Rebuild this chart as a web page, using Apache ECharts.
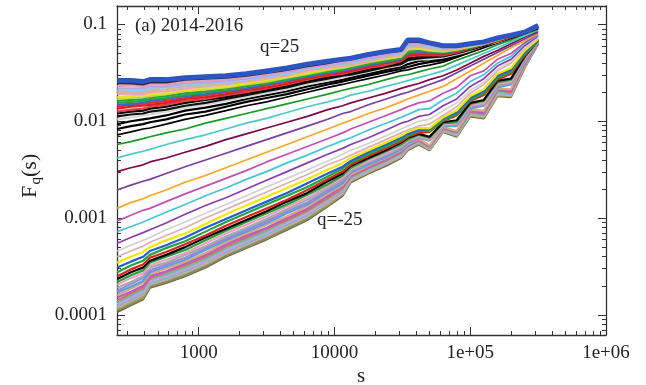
<!DOCTYPE html>
<html>
<head>
<meta charset="utf-8">
<script src="https://cdn.jsdelivr.net/npm/echarts@6/dist/echarts.min.js"></script>
<style>
html,body{margin:0;padding:0;background:#fff;}
#chart{width:646px;height:385px;}
</style>
</head>
<body>
<div id="chart"></div>
<script>
// ---- scale s (x values shared by every curve) ----
const sGrid = [251, 316, 389, 437, 575, 794, 1122, 1585, 2239, 3162, 4467, 6310, 8913, 11482, 13183,
  17783, 23988, 30903, 34674, 41687, 50119, 63096, 79433, 100000, 125893, 158489, 199526, 251189, 316228];

// ---- log10 of F_q(s) ----
const qUpper = [25,24,23,22,21,20,19,18,17,16,15,14,13,12,11,10,9,8,7,6];
const log10FqUpper = [
 [-1.58,-1.58,-1.59,-1.57,-1.57,-1.55,-1.54,-1.53,-1.51,-1.48,-1.45,-1.41,-1.38,-1.36,-1.35,-1.31,-1.28,-1.26,-1.16,-1.16,-1.19,-1.22,-1.22,-1.20,-1.18,-1.14,-1.11,-1.08,-1.01],
 [-1.61,-1.61,-1.62,-1.60,-1.60,-1.57,-1.56,-1.55,-1.53,-1.50,-1.47,-1.43,-1.40,-1.37,-1.36,-1.32,-1.29,-1.27,-1.18,-1.18,-1.20,-1.23,-1.23,-1.21,-1.18,-1.14,-1.11,-1.08,-1.01],
 [-1.64,-1.63,-1.64,-1.62,-1.62,-1.59,-1.58,-1.57,-1.54,-1.51,-1.48,-1.44,-1.41,-1.39,-1.37,-1.33,-1.30,-1.28,-1.19,-1.19,-1.21,-1.24,-1.23,-1.21,-1.19,-1.15,-1.11,-1.08,-1.01],
 [-1.66,-1.66,-1.66,-1.64,-1.64,-1.61,-1.60,-1.58,-1.56,-1.53,-1.49,-1.45,-1.42,-1.40,-1.39,-1.35,-1.32,-1.29,-1.21,-1.20,-1.22,-1.24,-1.24,-1.21,-1.19,-1.15,-1.11,-1.08,-1.01],
 [-1.68,-1.68,-1.68,-1.66,-1.65,-1.63,-1.61,-1.60,-1.57,-1.54,-1.51,-1.46,-1.43,-1.41,-1.40,-1.36,-1.32,-1.30,-1.22,-1.21,-1.23,-1.25,-1.24,-1.22,-1.19,-1.15,-1.12,-1.08,-1.02],
 [-1.70,-1.70,-1.70,-1.68,-1.67,-1.64,-1.63,-1.61,-1.58,-1.55,-1.52,-1.47,-1.44,-1.42,-1.41,-1.37,-1.33,-1.31,-1.23,-1.22,-1.24,-1.26,-1.25,-1.22,-1.19,-1.15,-1.12,-1.08,-1.02],
 [-1.72,-1.72,-1.72,-1.70,-1.69,-1.66,-1.64,-1.62,-1.59,-1.56,-1.53,-1.48,-1.45,-1.43,-1.42,-1.38,-1.34,-1.32,-1.24,-1.23,-1.25,-1.26,-1.25,-1.22,-1.20,-1.15,-1.12,-1.08,-1.02],
 [-1.75,-1.74,-1.73,-1.72,-1.71,-1.68,-1.66,-1.64,-1.61,-1.57,-1.54,-1.50,-1.46,-1.44,-1.42,-1.38,-1.35,-1.33,-1.25,-1.24,-1.26,-1.27,-1.25,-1.23,-1.20,-1.16,-1.12,-1.08,-1.02],
 [-1.77,-1.76,-1.75,-1.74,-1.72,-1.69,-1.67,-1.65,-1.62,-1.59,-1.55,-1.51,-1.47,-1.45,-1.43,-1.39,-1.36,-1.33,-1.26,-1.25,-1.27,-1.28,-1.26,-1.23,-1.20,-1.16,-1.12,-1.08,-1.02],
 [-1.79,-1.78,-1.77,-1.75,-1.74,-1.71,-1.69,-1.66,-1.63,-1.60,-1.56,-1.52,-1.48,-1.46,-1.44,-1.40,-1.37,-1.34,-1.27,-1.26,-1.27,-1.28,-1.26,-1.23,-1.20,-1.16,-1.12,-1.08,-1.02],
 [-1.81,-1.80,-1.79,-1.77,-1.76,-1.73,-1.70,-1.68,-1.64,-1.61,-1.57,-1.53,-1.49,-1.47,-1.45,-1.41,-1.38,-1.35,-1.29,-1.27,-1.28,-1.29,-1.27,-1.24,-1.20,-1.16,-1.12,-1.08,-1.02],
 [-1.83,-1.82,-1.81,-1.79,-1.77,-1.74,-1.72,-1.69,-1.66,-1.62,-1.58,-1.54,-1.50,-1.48,-1.46,-1.42,-1.39,-1.36,-1.30,-1.28,-1.29,-1.30,-1.27,-1.24,-1.21,-1.16,-1.12,-1.08,-1.02],
 [-1.85,-1.83,-1.83,-1.81,-1.79,-1.76,-1.73,-1.70,-1.67,-1.63,-1.59,-1.55,-1.51,-1.48,-1.47,-1.43,-1.39,-1.37,-1.31,-1.29,-1.30,-1.30,-1.28,-1.24,-1.21,-1.16,-1.12,-1.08,-1.02],
 [-1.87,-1.85,-1.84,-1.83,-1.81,-1.77,-1.75,-1.72,-1.68,-1.65,-1.61,-1.56,-1.52,-1.50,-1.48,-1.44,-1.40,-1.37,-1.32,-1.31,-1.31,-1.31,-1.28,-1.25,-1.21,-1.17,-1.13,-1.08,-1.03],
 [-1.90,-1.88,-1.87,-1.85,-1.83,-1.79,-1.77,-1.73,-1.70,-1.66,-1.62,-1.57,-1.53,-1.51,-1.49,-1.45,-1.42,-1.38,-1.33,-1.32,-1.32,-1.32,-1.29,-1.25,-1.21,-1.17,-1.13,-1.09,-1.03],
 [-1.92,-1.90,-1.89,-1.87,-1.85,-1.81,-1.78,-1.75,-1.71,-1.68,-1.63,-1.59,-1.54,-1.52,-1.50,-1.46,-1.43,-1.39,-1.35,-1.33,-1.33,-1.32,-1.29,-1.25,-1.22,-1.17,-1.13,-1.09,-1.03],
 [-1.95,-1.93,-1.92,-1.90,-1.88,-1.84,-1.81,-1.77,-1.73,-1.69,-1.65,-1.60,-1.56,-1.53,-1.52,-1.48,-1.44,-1.41,-1.37,-1.35,-1.34,-1.33,-1.30,-1.26,-1.22,-1.17,-1.13,-1.09,-1.03],
 [-1.98,-1.96,-1.94,-1.93,-1.90,-1.86,-1.83,-1.79,-1.75,-1.71,-1.67,-1.62,-1.58,-1.55,-1.53,-1.49,-1.45,-1.42,-1.38,-1.36,-1.36,-1.34,-1.31,-1.27,-1.22,-1.18,-1.13,-1.09,-1.03],
 [-2.03,-2.00,-1.98,-1.97,-1.94,-1.89,-1.86,-1.82,-1.77,-1.73,-1.69,-1.64,-1.60,-1.57,-1.55,-1.51,-1.47,-1.44,-1.41,-1.38,-1.37,-1.36,-1.32,-1.27,-1.23,-1.18,-1.13,-1.09,-1.03],
 [-2.08,-2.05,-2.03,-2.01,-1.98,-1.93,-1.90,-1.85,-1.80,-1.76,-1.72,-1.67,-1.62,-1.59,-1.57,-1.53,-1.49,-1.46,-1.44,-1.41,-1.39,-1.37,-1.33,-1.28,-1.23,-1.18,-1.14,-1.09,-1.04]
];
const qMiddle = [5,4,3,2,1,0,-1,-2,-3,-4,-5];
const log10FqMiddle = [
 [-2.14,-2.11,-2.08,-2.07,-2.03,-1.98,-1.94,-1.89,-1.84,-1.80,-1.75,-1.70,-1.65,-1.62,-1.60,-1.56,-1.52,-1.48,-1.47,-1.44,-1.42,-1.39,-1.34,-1.29,-1.24,-1.19,-1.14,-1.09,-1.04],
 [-2.24,-2.21,-2.18,-2.16,-2.12,-2.08,-2.02,-1.97,-1.92,-1.87,-1.82,-1.77,-1.72,-1.68,-1.66,-1.62,-1.57,-1.53,-1.52,-1.49,-1.46,-1.43,-1.37,-1.32,-1.27,-1.21,-1.16,-1.10,-1.05],
 [-2.38,-2.34,-2.31,-2.29,-2.24,-2.19,-2.14,-2.08,-2.02,-1.97,-1.91,-1.85,-1.80,-1.76,-1.73,-1.69,-1.64,-1.60,-1.58,-1.55,-1.52,-1.48,-1.42,-1.36,-1.30,-1.24,-1.18,-1.12,-1.06],
 [-2.52,-2.48,-2.45,-2.42,-2.38,-2.32,-2.26,-2.19,-2.13,-2.07,-2.01,-1.95,-1.88,-1.84,-1.81,-1.76,-1.71,-1.66,-1.64,-1.61,-1.57,-1.53,-1.47,-1.40,-1.33,-1.27,-1.20,-1.13,-1.07],
 [-2.71,-2.66,-2.62,-2.60,-2.54,-2.47,-2.40,-2.33,-2.26,-2.19,-2.12,-2.05,-1.98,-1.92,-1.90,-1.83,-1.77,-1.72,-1.70,-1.66,-1.62,-1.57,-1.50,-1.43,-1.36,-1.29,-1.22,-1.15,-1.08],
 [-2.90,-2.84,-2.80,-2.77,-2.71,-2.63,-2.56,-2.48,-2.40,-2.32,-2.24,-2.16,-2.08,-2.02,-1.99,-1.92,-1.86,-1.80,-1.77,-1.73,-1.69,-1.64,-1.56,-1.48,-1.40,-1.32,-1.24,-1.17,-1.09],
 [-3.03,-2.97,-2.92,-2.90,-2.83,-2.75,-2.67,-2.59,-2.51,-2.42,-2.34,-2.26,-2.18,-2.12,-2.08,-2.01,-1.94,-1.88,-1.85,-1.81,-1.79,-1.71,-1.65,-1.53,-1.48,-1.36,-1.30,-1.19,-1.10],
 [-3.14,-3.09,-3.04,-3.01,-2.94,-2.86,-2.77,-2.69,-2.60,-2.52,-2.43,-2.35,-2.26,-2.20,-2.17,-2.09,-2.02,-1.96,-1.93,-1.88,-1.87,-1.78,-1.71,-1.59,-1.52,-1.40,-1.33,-1.20,-1.11],
 [-3.26,-3.20,-3.15,-3.12,-3.05,-2.96,-2.87,-2.79,-2.70,-2.61,-2.52,-2.43,-2.34,-2.28,-2.24,-2.17,-2.09,-2.02,-2.00,-1.95,-1.93,-1.84,-1.77,-1.64,-1.56,-1.43,-1.36,-1.22,-1.12],
 [-3.34,-3.28,-3.23,-3.20,-3.12,-3.04,-2.95,-2.86,-2.77,-2.68,-2.59,-2.50,-2.41,-2.34,-2.30,-2.23,-2.15,-2.08,-2.05,-2.00,-1.98,-1.89,-1.81,-1.68,-1.60,-1.46,-1.38,-1.24,-1.13],
 [-3.40,-3.34,-3.29,-3.25,-3.18,-3.10,-3.00,-2.91,-2.82,-2.73,-2.64,-2.55,-2.45,-2.39,-2.35,-2.27,-2.19,-2.12,-2.09,-2.05,-2.03,-1.94,-1.85,-1.71,-1.62,-1.48,-1.40,-1.25,-1.14]
];
const qLower = [-6,-7,-8,-9,-10,-11,-12,-13,-14,-15,-16,-17,-18,-19,-20,-21,-22,-23,-24,-25];
const log10FqLower = [
 [-3.46,-3.40,-3.35,-3.30,-3.23,-3.16,-3.06,-2.96,-2.87,-2.78,-2.69,-2.60,-2.50,-2.43,-2.38,-2.30,-2.22,-2.15,-2.11,-2.07,-2.07,-1.96,-1.89,-1.74,-1.67,-1.51,-1.45,-1.27,-1.15],
 [-3.51,-3.45,-3.40,-3.34,-3.28,-3.20,-3.10,-3.01,-2.92,-2.83,-2.74,-2.64,-2.54,-2.47,-2.41,-2.32,-2.24,-2.17,-2.13,-2.09,-2.08,-1.97,-1.91,-1.76,-1.69,-1.53,-1.47,-1.29,-1.15],
 [-3.56,-3.49,-3.44,-3.38,-3.31,-3.24,-3.14,-3.04,-2.95,-2.86,-2.77,-2.68,-2.57,-2.49,-2.43,-2.34,-2.26,-2.19,-2.15,-2.10,-2.10,-1.99,-1.93,-1.78,-1.71,-1.55,-1.49,-1.31,-1.16],
 [-3.60,-3.53,-3.48,-3.41,-3.35,-3.27,-3.18,-3.08,-2.99,-2.90,-2.81,-2.71,-2.60,-2.52,-2.45,-2.36,-2.28,-2.21,-2.16,-2.12,-2.11,-2.00,-1.94,-1.79,-1.73,-1.57,-1.51,-1.32,-1.16],
 [-3.63,-3.56,-3.51,-3.44,-3.38,-3.30,-3.20,-3.11,-3.02,-2.93,-2.83,-2.74,-2.62,-2.54,-2.46,-2.38,-2.30,-2.22,-2.17,-2.13,-2.16,-2.01,-1.99,-1.81,-1.78,-1.58,-1.56,-1.33,-1.16],
 [-3.66,-3.59,-3.54,-3.46,-3.40,-3.33,-3.23,-3.13,-3.04,-2.95,-2.86,-2.76,-2.65,-2.56,-2.48,-2.39,-2.31,-2.24,-2.19,-2.14,-2.17,-2.02,-2.01,-1.82,-1.79,-1.60,-1.57,-1.34,-1.17],
 [-3.69,-3.62,-3.57,-3.49,-3.43,-3.36,-3.26,-3.16,-3.07,-2.98,-2.88,-2.79,-2.67,-2.58,-2.49,-2.41,-2.33,-2.25,-2.20,-2.15,-2.18,-2.03,-2.02,-1.83,-1.81,-1.61,-1.59,-1.35,-1.17],
 [-3.72,-3.66,-3.60,-3.51,-3.46,-3.38,-3.29,-3.19,-3.10,-3.01,-2.91,-2.81,-2.69,-2.60,-2.51,-2.42,-2.34,-2.27,-2.21,-2.16,-2.19,-2.04,-2.03,-1.84,-1.82,-1.63,-1.60,-1.36,-1.17],
 [-3.75,-3.68,-3.62,-3.54,-3.48,-3.41,-3.31,-3.21,-3.12,-3.03,-2.93,-2.84,-2.71,-2.62,-2.52,-2.43,-2.35,-2.28,-2.22,-2.17,-2.19,-2.04,-2.04,-1.86,-1.83,-1.64,-1.61,-1.37,-1.18],
 [-3.77,-3.71,-3.65,-3.56,-3.50,-3.43,-3.33,-3.23,-3.14,-3.05,-2.95,-2.86,-2.73,-2.64,-2.53,-2.45,-2.37,-2.29,-2.23,-2.17,-2.20,-2.05,-2.05,-1.87,-1.84,-1.65,-1.62,-1.38,-1.18],
 [-3.80,-3.73,-3.67,-3.58,-3.52,-3.45,-3.36,-3.25,-3.16,-3.07,-2.98,-2.88,-2.75,-2.66,-2.55,-2.46,-2.38,-2.30,-2.24,-2.18,-2.25,-2.06,-2.10,-1.88,-1.89,-1.66,-1.67,-1.39,-1.18],
 [-3.82,-3.76,-3.70,-3.60,-3.55,-3.47,-3.38,-3.27,-3.18,-3.10,-3.00,-2.90,-2.77,-2.67,-2.56,-2.47,-2.39,-2.31,-2.25,-2.19,-2.26,-2.07,-2.11,-1.89,-1.91,-1.67,-1.69,-1.40,-1.19],
 [-3.85,-3.78,-3.72,-3.62,-3.56,-3.49,-3.40,-3.29,-3.20,-3.11,-3.02,-2.92,-2.79,-2.69,-2.57,-2.48,-2.40,-2.32,-2.25,-2.20,-2.26,-2.07,-2.11,-1.90,-1.92,-1.68,-1.70,-1.41,-1.19],
 [-3.87,-3.80,-3.74,-3.63,-3.58,-3.51,-3.42,-3.31,-3.22,-3.13,-3.03,-2.93,-2.80,-2.70,-2.58,-2.49,-2.41,-2.33,-2.26,-2.20,-2.27,-2.08,-2.12,-1.91,-1.93,-1.69,-1.71,-1.41,-1.19],
 [-3.89,-3.82,-3.76,-3.65,-3.60,-3.53,-3.44,-3.33,-3.24,-3.15,-3.05,-2.95,-2.82,-2.71,-2.59,-2.50,-2.42,-2.34,-2.27,-2.21,-2.27,-2.08,-2.13,-1.91,-1.93,-1.70,-1.71,-1.42,-1.19],
 [-3.91,-3.84,-3.78,-3.67,-3.62,-3.55,-3.45,-3.35,-3.26,-3.17,-3.07,-2.97,-2.83,-2.73,-2.60,-2.51,-2.43,-2.35,-2.28,-2.22,-2.28,-2.09,-2.14,-1.92,-1.94,-1.71,-1.72,-1.43,-1.19],
 [-3.92,-3.85,-3.79,-3.68,-3.63,-3.56,-3.47,-3.36,-3.27,-3.18,-3.08,-2.98,-2.84,-2.74,-2.61,-2.52,-2.44,-2.36,-2.28,-2.22,-2.29,-2.10,-2.14,-1.93,-1.95,-1.72,-1.73,-1.43,-1.19],
 [-3.94,-3.87,-3.81,-3.69,-3.64,-3.57,-3.48,-3.37,-3.28,-3.19,-3.09,-2.99,-2.86,-2.75,-2.61,-2.53,-2.44,-2.37,-2.29,-2.23,-2.29,-2.10,-2.15,-1.94,-1.96,-1.73,-1.74,-1.44,-1.20],
 [-3.95,-3.89,-3.83,-3.71,-3.66,-3.59,-3.50,-3.39,-3.30,-3.21,-3.11,-3.01,-2.87,-2.76,-2.62,-2.53,-2.45,-2.37,-2.29,-2.23,-2.29,-2.10,-2.15,-1.94,-1.96,-1.73,-1.74,-1.44,-1.20],
 [-3.97,-3.90,-3.84,-3.72,-3.67,-3.60,-3.51,-3.40,-3.31,-3.22,-3.12,-3.02,-2.88,-2.77,-2.63,-2.54,-2.46,-2.38,-2.30,-2.24,-2.30,-2.11,-2.16,-1.95,-1.97,-1.74,-1.75,-1.45,-1.20]
];

// ---- tick labels and texts ----
const xTickValues = [1000, 10000, 100000, 1000000];
const xTickLabels = ['1000', '10000', '1e+05', '1e+06'];
const yTickValues = [0.0001, 0.001, 0.01, 0.1];
const yTickLabels = ['0.0001', '0.001', '0.01', '0.1'];
const panelTitle = '(a) 2014-2016';
const topCurveLabel = 'q=25';
const bottomCurveLabel = 'q=-25';
const xAxisName = 's';

// ---- styles (colour per q) ----
const lineColors = {
  25:'#2b55c2', 24:'#2a2a2a', 23:'#e89ab8', 22:'#b9a3e3', 21:'#8fcbe6', 20:'#d9b48f', 19:'#f0a0c8',
  18:'#e6e12a', 17:'#c8d840', 16:'#1fa84a', 15:'#30a040', 14:'#3a62d0', 13:'#e32b2b', 12:'#d81e1e',
  11:'#e04040', 10:'#000000', 9:'#111111', 8:'#d8d8d8', 7:'#000000', 6:'#000000', 5:'#000000',
  4:'#1a9a2a', 3:'#4cc9c9', 2:'#7a0a4a', 1:'#7b3fa0', 0:'#f5a623', '-1':'#c34fb5', '-2':'#45c5d5',
  '-3':'#8b3db0', '-4':'#d2d2d2', '-5':'#e0b0b8', '-6':'#f2ea00', '-7':'#2a5bd0', '-8':'#1fa83a',
  '-9':'#e02020', '-10':'#000000', '-11':'#2a9d3a', '-12':'#e8a0c0', '-13':'#a8a8a8', '-14':'#9a88d8',
  '-15':'#5aa0e0', '-16':'#d8a878', '-17':'#b45ec8', '-18':'#e06868', '-19':'#60c0a0', '-20':'#c8a0d8',
  '-21':'#8ab0d0', '-22':'#d0b0a0', '-23':'#a8a060', '-24':'#888870', '-25':'#6b6b30'
};
const FONT = 'Liberation Serif';
const INK = '#222';

const X_MIN = 250, X_MAX = 1e6, Y_MIN = 6.2e-5, Y_MAX = 0.155;

function minorTicks(lo, hi) {
  const out = [];
  for (let e = Math.floor(Math.log10(lo)); e <= Math.ceil(Math.log10(hi)); e++) {
    for (let m = 2; m <= 9; m++) {
      const v = m * Math.pow(10, e);
      if (v > lo && v < hi) out.push(v);
    }
  }
  return out;
}
const xMinor = minorTicks(X_MIN, X_MAX);
const yMinor = minorTicks(Y_MIN, Y_MAX);

function labelFor(values, labels) {
  return function (v) {
    for (let i = 0; i < values.length; i++) {
      if (Math.abs(Math.log10(values[i]) - Math.log10(v)) < 1e-6) return labels[i];
    }
    return '';
  };
}

function axis(dim, position, ticks, len, showLine, labels) {
  const a = {
    type: 'log', logBase: 10,
    min: dim === 'x' ? X_MIN : Y_MIN,
    max: dim === 'x' ? X_MAX : Y_MAX,
    position: position,
    gridIndex: 0,
    axisLine: { show: showLine, onZero: false, lineStyle: { color: '#333', width: 1.3 } },
    axisTick: { show: true, inside: true, length: len, customValues: ticks, lineStyle: { color: '#333', width: 1 } },
    axisLabel: { show: false },
    splitLine: { show: false },
    minorTick: { show: false },
    minorSplitLine: { show: false },
    axisPointer: { show: false }
  };
  if (labels) {
    a.axisLabel = {
      show: true,
      customValues: labels.values,
      formatter: labelFor(labels.values, labels.text),
      fontFamily: FONT, fontSize: 19, color: INK,
      margin: labels.margin
    };
  }
  return a;
}

const xAxes = [
  axis('x', 'bottom', xTickValues, 8, true, { values: xTickValues, text: xTickLabels, margin: 9 }),
  axis('x', 'bottom', xMinor, 4, false),
  axis('x', 'top', xTickValues, 8, true),
  axis('x', 'top', xMinor, 4, false)
];
const yAxes = [
  axis('y', 'left', yTickValues, 8, true, { values: yTickValues, text: yTickLabels, margin: 10 }),
  axis('y', 'left', yMinor, 4, false),
  axis('y', 'right', yTickValues, 8, true),
  axis('y', 'right', yMinor, 4, false)
];

function makeSeries(q, row, width) {
  return {
    type: 'line',
    name: 'q=' + q,
    xAxisIndex: 0, yAxisIndex: 0,
    showSymbol: false, symbol: 'none',
    silent: true,
    lineStyle: { color: lineColors[q], width: width },
    data: sGrid.map((s, i) => [s, Math.pow(10, row[i])])
  };
}

const series = [];
for (let i = qLower.length - 1; i >= 0; i--) series.push(makeSeries(qLower[i], log10FqLower[i], 2.2));
for (let i = qMiddle.length - 1; i >= 0; i--) series.push(makeSeries(qMiddle[i], log10FqMiddle[i], 1.7));
for (let i = qUpper.length - 1; i >= 0; i--) series.push(makeSeries(qUpper[i], log10FqUpper[i], qUpper[i] === 25 ? 5 : 2.2));

const chart = echarts.init(document.getElementById('chart'), null, { renderer: 'canvas' });
chart.setOption({
  animation: false,
  backgroundColor: '#fff',
  grid: { left: 117, top: 6, right: 40, bottom: 50, containLabel: false },
  xAxis: xAxes,
  yAxis: yAxes,
  series: series,
  graphic: [
    { type: 'text', x: 135, y: 26, z: 100,
      style: { text: panelTitle, fontFamily: FONT, fontSize: 19, fill: INK, textAlign: 'left', textVerticalAlign: 'middle' } },
    { type: 'text', x: 260, y: 47, z: 100,
      style: { text: topCurveLabel, fontFamily: FONT, fontSize: 19, fill: INK, textAlign: 'left', textVerticalAlign: 'middle' } },
    { type: 'text', x: 317, y: 220, z: 100,
      style: { text: bottomCurveLabel, fontFamily: FONT, fontSize: 19, fill: INK, textAlign: 'left', textVerticalAlign: 'middle' } },
    { type: 'text', x: 361, y: 376, z: 100,
      style: { text: xAxisName, fontFamily: FONT, fontSize: 21, fill: INK, textAlign: 'center', textVerticalAlign: 'middle' } },
    { type: 'group', x: 30, y: 176, rotation: Math.PI / 2, z: 100,
      children: [
        { type: 'text', x: -22, y: 0, style: { text: 'F', fontFamily: FONT, fontSize: 22, fill: INK, textAlign: 'left', textVerticalAlign: 'middle' } },
        { type: 'text', x: -8.5, y: 6, style: { text: 'q', fontFamily: FONT, fontSize: 15, fill: INK, textAlign: 'left', textVerticalAlign: 'middle' } },
        { type: 'text', x: -1, y: 0, style: { text: '(s)', fontFamily: FONT, fontSize: 22, fill: INK, textAlign: 'left', textVerticalAlign: 'middle' } }
      ] }
  ]
});
</script>
</body>
</html>
